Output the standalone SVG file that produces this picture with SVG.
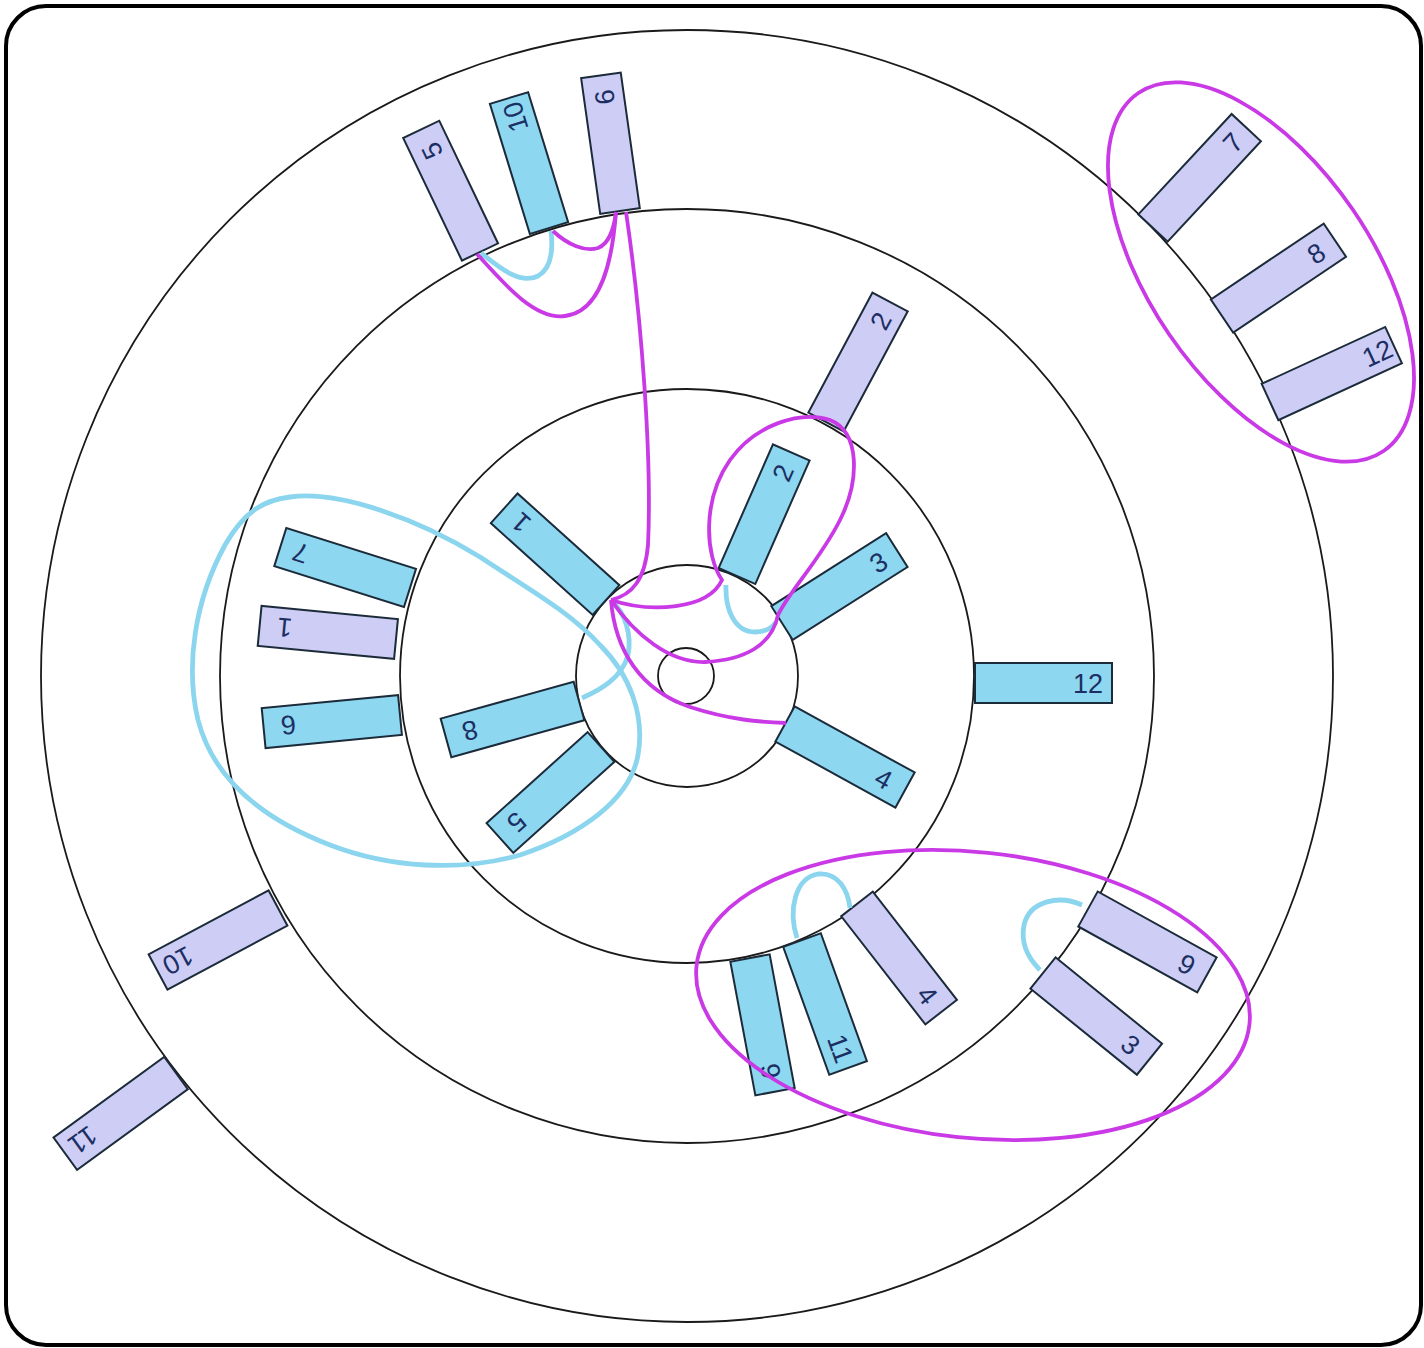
<svg xmlns="http://www.w3.org/2000/svg" width="1424" height="1348" viewBox="0 0 1424 1348">
<style>
.ring{fill:none;stroke:#1a1a1a;stroke-width:1.8}
.b{fill:#8dd7f1;stroke:#1c2b3a;stroke-width:2}
.l{fill:#cdcdf6;stroke:#1c2b3a;stroke-width:2}
text{font-family:"Liberation Sans",Arial,sans-serif;font-size:27px;fill:#1c2f63;text-anchor:middle}
.m{fill:none;stroke:#c93ae6;stroke-width:3.8}
.c{fill:none;stroke:#8bd5ee;stroke-width:4.8}
</style>
<rect x="6" y="6" width="1415" height="1339" rx="40" fill="#ffffff" stroke="#000" stroke-width="4"/>
<g id="rings">
<circle class="ring" cx="687" cy="676" r="646"/>
<circle class="ring" cx="687" cy="676" r="467"/>
<circle class="ring" cx="687" cy="676" r="287"/>
<circle class="ring" cx="687" cy="676" r="111"/>
<circle class="ring" cx="686" cy="676" r="28"/>
</g>
<g id="a1" transform="translate(606 600) rotate(222)"><rect class="b" x="0" y="-20" width="137" height="40"/><text x="115" y="10">1</text></g>
<g id="a2" transform="translate(737 576) rotate(-66.3)"><rect class="b" x="0" y="-20" width="135" height="40"/><text x="113" y="10">2</text></g>
<g id="a3" transform="translate(782 623) rotate(-32.4)"><rect class="b" x="0" y="-20" width="136" height="40"/><text x="114" y="10">3</text></g>
<g id="a4" transform="translate(785 724) rotate(28.8)"><rect class="b" x="0" y="-20" width="137" height="40"/><text x="113" y="10">4</text></g>
<g id="a5" transform="translate(601 747) rotate(138)"><rect class="b" x="0" y="-20" width="136" height="40"/><text x="113" y="10">5</text></g>
<g id="a8" transform="translate(579 701) rotate(164.5)"><rect class="b" x="0" y="-20" width="138" height="40"/><text x="113" y="10">8</text></g>
<g id="b7" transform="translate(410 588) rotate(197.5)"><rect class="b" x="0" y="-20" width="136" height="40"/><text x="115" y="10">7</text></g>
<g id="b1" transform="translate(396 639) rotate(185.5)"><rect class="l" x="0" y="-20" width="137" height="40"/><text x="112" y="10">1</text></g>
<g id="b6" transform="translate(400 715) rotate(174.5)"><rect class="b" x="0" y="-20" width="137" height="40"/><text x="112" y="10">6</text></g>
<g id="b12" transform="translate(975 683)"><rect class="b" x="0" y="-20" width="137" height="40"/><text x="113" y="10">12</text></g>
<g id="b2" transform="translate(826 422) rotate(-61.9)"><rect class="l" x="0" y="-20" width="136" height="40"/><text x="115" y="10">2</text></g>
<g id="b4" transform="translate(857 904) rotate(52.1)"><rect class="l" x="0" y="-20" width="137" height="40"/><text x="115" y="10">4</text></g>
<g id="b11" transform="translate(802 940) rotate(70.2)"><rect class="b" x="0" y="-20" width="136" height="40"/><text x="115" y="10">11</text></g>
<g id="b9" transform="translate(750 958) rotate(79.4)"><rect class="b" x="0" y="-20" width="136" height="40"/><text x="115" y="10">9</text></g>
<g id="c5" transform="translate(480 252) rotate(-115.6)"><rect class="l" x="0" y="-20" width="136" height="40"/><text x="112" y="10">5</text></g>
<g id="c10" transform="translate(549 228) rotate(-107.1)"><rect class="b" x="0" y="-20" width="136" height="40"/><text x="116" y="10">10</text></g>
<g id="c6" transform="translate(620 211) rotate(-98)"><rect class="l" x="0" y="-20" width="137" height="40"/><text x="115" y="10">6</text></g>
<g id="c10b" transform="translate(278 908) rotate(151.9)"><rect class="l" x="0" y="-20" width="136" height="40"/><text x="113" y="10">10</text></g>
<g id="c9b" transform="translate(1088 909) rotate(29)"><rect class="l" x="0" y="-20" width="136" height="40"/><text x="113" y="10">9</text></g>
<g id="c3" transform="translate(1043 973) rotate(39)"><rect class="l" x="0" y="-20" width="137" height="40"/><text x="113" y="10">3</text></g>
<g id="d11" transform="translate(176 1073) rotate(143.9)"><rect class="l" x="0" y="-20" width="137" height="40"/><text x="115" y="10">11</text></g>
<g id="d7" transform="translate(1153 228) rotate(-47.1)"><rect class="l" x="0" y="-20" width="137" height="40"/><text x="117" y="10">7</text></g>
<g id="d8" transform="translate(1222 316) rotate(-33.9)"><rect class="l" x="0" y="-20" width="136" height="40"/><text x="113" y="10">8</text></g>
<g id="d12" transform="translate(1270 402) rotate(-24.7)"><rect class="l" x="0" y="-20" width="136" height="40"/><text x="118" y="10">12</text></g>
<g id="connectors">
<path class="c" d="M 290 497 C 340 490, 420 520, 480 557 C 530 590, 570 612, 600 645 C 630 675, 645 715, 638 755 C 630 800, 580 835, 520 855 C 460 872, 390 868, 330 845 C 270 822, 215 785, 198 720 C 185 665, 195 600, 225 545 C 245 510, 265 500, 290 497 Z"/>
<path class="c" d="M 582 698 C 600 690, 622 678, 628 655 C 632 635, 625 612, 612 602"/>
<path class="c" d="M 481 253 C 500 268, 520 285, 538 276 C 552 268, 553 248, 551 231"/>
<path class="c" d="M 726 585 C 725 610, 735 632, 755 632 C 765 632, 772 628, 776 622"/>
<path class="c" d="M 797 938 C 788 910, 795 878, 818 874 C 838 872, 848 890, 850 908"/>
<path class="c" d="M 1082 905 C 1060 895, 1030 900, 1024 925 C 1020 945, 1030 960, 1040 970"/>
<path class="m" d="M 477 254 C 505 285, 535 320, 565 316 C 600 312, 612 265, 616 212"/>
<path class="m" d="M 553 231 C 568 245, 585 252, 598 248 C 610 243, 614 228, 616 212"/>
<path class="m" d="M 626 212 C 642 320, 652 460, 648 545 C 645 580, 632 595, 611 600"/>
<path class="m" d="M 611 600 C 650 613, 708 610, 722 580 C 705 555, 702 500, 730 460 C 755 425, 800 410, 830 420 C 860 432, 860 480, 840 520 C 820 560, 790 590, 778 615 C 772 645, 745 660, 705 662 C 670 663, 635 635, 611 600"/>
<path class="m" d="M 611 600 C 615 650, 640 690, 690 707 C 730 720, 760 722, 786 723"/>
<ellipse class="m" cx="1261" cy="272" rx="217" ry="111" transform="rotate(55.6 1261 272)"/>
<ellipse class="m" cx="973" cy="995" rx="278" ry="143" transform="rotate(6 973 995)"/>
</g>
</svg>
